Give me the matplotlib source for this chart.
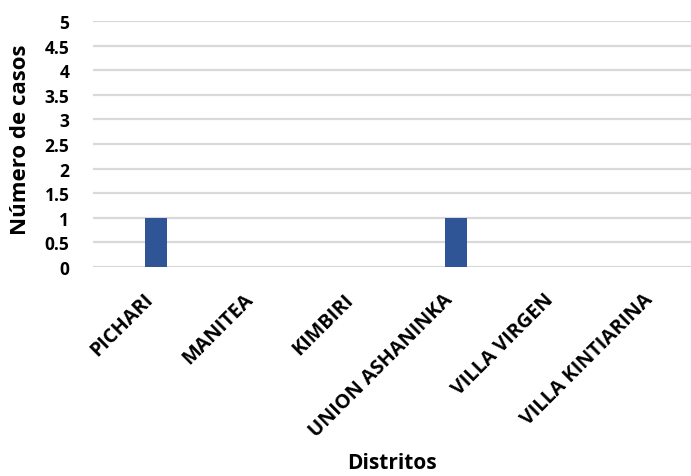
import matplotlib
matplotlib.use("Agg")
import matplotlib.pyplot as plt
import numpy as np

# casos por distrito
distritos = ["PICHARI", "MANITEA", "KIMBIRI", "UNION ASHANINKA", "VILLA VIRGEN", "VILLA KINTIARINA"]
casos = [1, 0, 0, 1, 0, 0]
yticks = [0, 0.5, 1, 1.5, 2, 2.5, 3, 3.5, 4, 4.5, 5]
ytick_labels = ["0", "0.5", "1", "1.5", "2", "2.5", "3", "3.5", "4", "4.5", "5"]

plt.rcParams["font.family"] = ["Open Sans", "DejaVu Sans"]
plt.rcParams["font.weight"] = "bold"

fig = plt.figure(figsize=(6.91, 4.77), dpi=100)
ax = fig.add_axes([93 / 691, 1 - 268 / 477, 600 / 691, 246 / 477])

x = np.arange(len(distritos))
ax.bar(x + 0.13, casos, width=0.22, color="#2F5597", zorder=3)

ax.set_xlim(-0.5, len(distritos) - 0.5)
ax.set_ylim(0, 5)
ax.set_yticks(yticks)
ax.set_yticklabels(ytick_labels, fontsize=12.5, fontweight="bold")
ax.yaxis.grid(True, color="#d9d9d9", linewidth=1.6, zorder=0)
ax.tick_params(axis="both", length=0)
ax.tick_params(axis="y", pad=17)

ax.set_xticks(x + 0.0)
ax.set_xticklabels(distritos, rotation=45, ha="right", rotation_mode="anchor",
                   fontsize=14.3, fontweight="bold")
ax.tick_params(axis="x", pad=16)

for s in ax.spines.values():
    s.set_visible(False)

ax.set_ylabel("Número de casos", fontsize=16, fontweight="bold")
ax.yaxis.set_label_coords(-(93 - 31) / 600, (268 - 140) / 246)
ax.set_xlabel("Distritos", fontsize=15, fontweight="bold")
ax.xaxis.set_label_coords((392 - 93) / 600, -(453 - 268) / 246)

fig.savefig("out.png", dpi=100)
